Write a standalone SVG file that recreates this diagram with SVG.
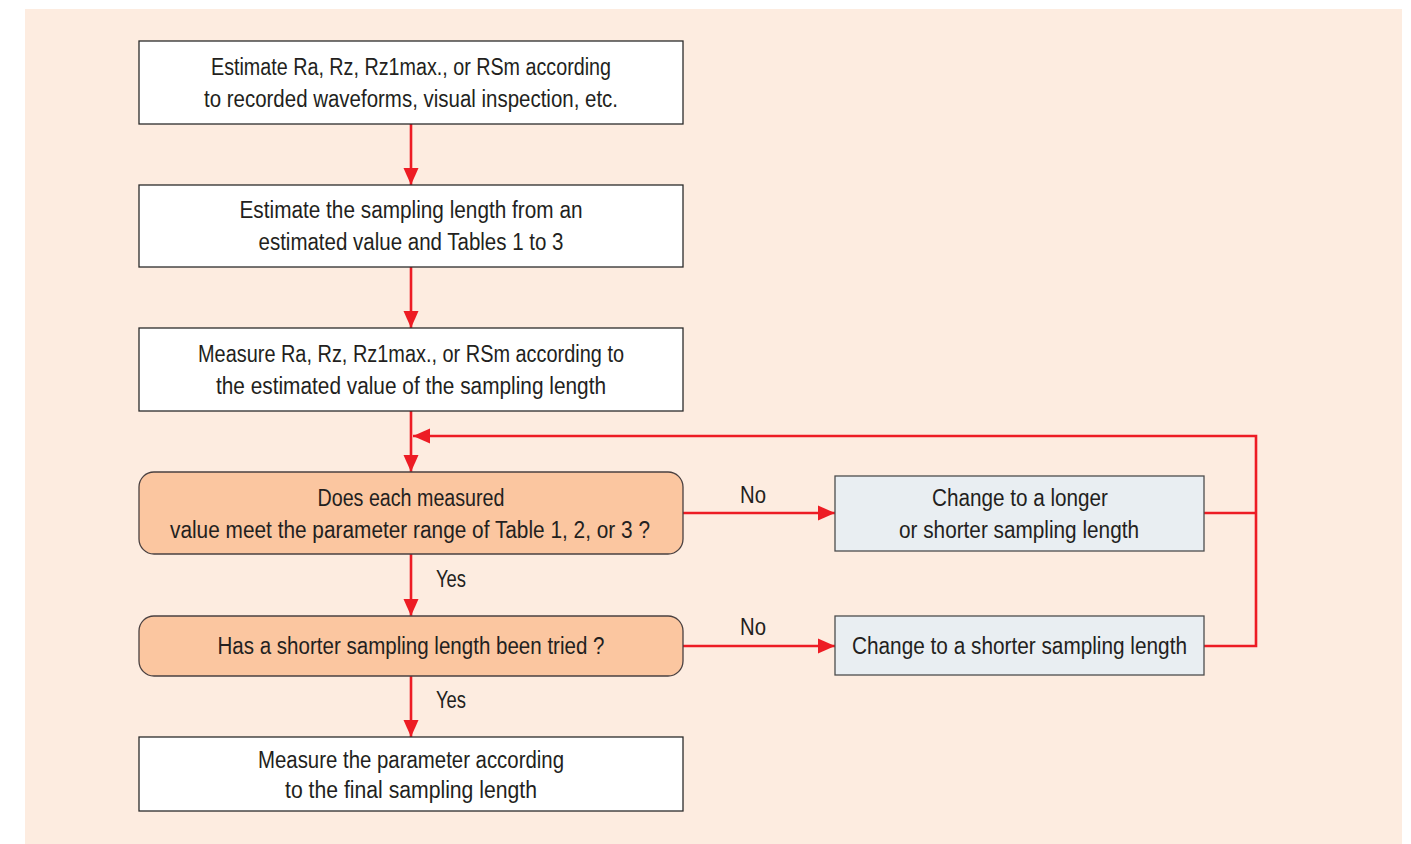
<svg xmlns="http://www.w3.org/2000/svg" width="1411" height="844" viewBox="0 0 1411 844">
<style>
  text { font-family: "Liberation Sans", Arial, sans-serif; font-size: 23px; fill: #231f20; text-anchor: middle; }
  .box { fill: #ffffff; stroke: #2b2b2b; stroke-width: 1.3; }
  .dec { fill: #fbc6a0; stroke: #4a4040; stroke-width: 1.3; }
  .alt { fill: #e9eef2; stroke: #4d4d4d; stroke-width: 1.3; }
  .con { fill: none; stroke: #ed1c24; stroke-width: 2.6; }
</style>
<defs>
  <marker id="ah" markerUnits="userSpaceOnUse" markerWidth="18" markerHeight="18" viewBox="0 0 18 18" refX="17" refY="9" orient="auto">
    <path d="M0,1.5 L17,9 L0,16.5 Z" fill="#ed1c24"/>
  </marker>
</defs>
<rect x="25" y="9" width="1377" height="835" fill="#fdece0"/>

<g id="connectors">
  <line class="con" x1="411" y1="124" x2="411" y2="185" marker-end="url(#ah)"/>
  <line class="con" x1="411" y1="267" x2="411" y2="328" marker-end="url(#ah)"/>
  <line class="con" x1="411" y1="411" x2="411" y2="472" marker-end="url(#ah)"/>
  <line class="con" x1="411" y1="554" x2="411" y2="616" marker-end="url(#ah)"/>
  <line class="con" x1="411" y1="676" x2="411" y2="737" marker-end="url(#ah)"/>
  <line class="con" x1="683" y1="513" x2="835" y2="513" marker-end="url(#ah)"/>
  <line class="con" x1="683" y1="646" x2="835" y2="646" marker-end="url(#ah)"/>
  <polyline class="con" points="1204,513 1256,513"/>
  <polyline class="con" points="1204,646 1256,646 1256,436 413,436" marker-end="url(#ah)"/>
  <text x="753" y="503" textLength="26" lengthAdjust="spacingAndGlyphs">No</text>
  <text x="753" y="635" textLength="26" lengthAdjust="spacingAndGlyphs">No</text>
  <text x="451" y="587" textLength="30" lengthAdjust="spacingAndGlyphs">Yes</text>
  <text x="451" y="708" textLength="30" lengthAdjust="spacingAndGlyphs">Yes</text>
</g>

<g id="n1">
  <rect class="box" x="139" y="41" width="544" height="83"/>
  <text x="411" y="75" textLength="400" lengthAdjust="spacingAndGlyphs">Estimate Ra, Rz, Rz1max., or RSm according</text>
  <text x="411" y="107" textLength="414" lengthAdjust="spacingAndGlyphs">to recorded waveforms, visual inspection, etc.</text>
</g>
<g id="n2">
  <rect class="box" x="139" y="185" width="544" height="82"/>
  <text x="411" y="218" textLength="343" lengthAdjust="spacingAndGlyphs">Estimate the sampling length from an</text>
  <text x="411" y="250" textLength="305" lengthAdjust="spacingAndGlyphs">estimated value and Tables 1 to 3</text>
</g>
<g id="n3">
  <rect class="box" x="139" y="328" width="544" height="83"/>
  <text x="411" y="362" textLength="426" lengthAdjust="spacingAndGlyphs">Measure Ra, Rz, Rz1max., or RSm according to</text>
  <text x="411" y="394" textLength="390" lengthAdjust="spacingAndGlyphs">the estimated value of the sampling length</text>
</g>
<g id="d1">
  <rect class="dec" x="139" y="472" width="544" height="82" rx="15" ry="15"/>
  <text x="411" y="506" textLength="187" lengthAdjust="spacingAndGlyphs">Does each measured</text>
  <text x="410" y="538" textLength="480" lengthAdjust="spacingAndGlyphs">value meet the parameter range of Table 1, 2, or 3 ?</text>
</g>
<g id="d2">
  <rect class="dec" x="139" y="616" width="544" height="60" rx="15" ry="15"/>
  <text x="411" y="654" textLength="387" lengthAdjust="spacingAndGlyphs">Has a shorter sampling length been tried ?</text>
</g>
<g id="n4">
  <rect class="box" x="139" y="737" width="544" height="74"/>
  <text x="411" y="768" textLength="306" lengthAdjust="spacingAndGlyphs">Measure the parameter according</text>
  <text x="411" y="798" textLength="252" lengthAdjust="spacingAndGlyphs">to the final sampling length</text>
</g>
<g id="a1">
  <rect class="alt" x="835" y="476" width="369" height="75"/>
  <text x="1020" y="506" textLength="176" lengthAdjust="spacingAndGlyphs">Change to a longer</text>
  <text x="1019" y="538" textLength="240" lengthAdjust="spacingAndGlyphs">or shorter sampling length</text>
</g>
<g id="a2">
  <rect class="alt" x="835" y="616" width="369" height="59"/>
  <text x="1019.5" y="654" textLength="335" lengthAdjust="spacingAndGlyphs">Change to a shorter sampling length</text>
</g>
</svg>
